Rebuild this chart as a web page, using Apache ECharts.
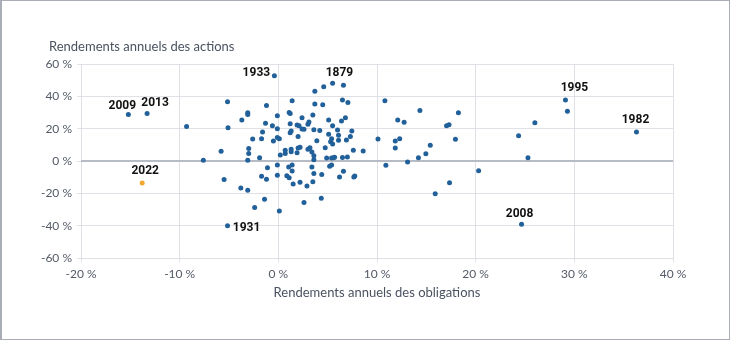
<!DOCTYPE html>
<html>
<head>
<meta charset="utf-8">
<script src="https://cdn.jsdelivr.net/npm/echarts@6/dist/echarts.min.js"></script>
<style>
  html, body { margin: 0; padding: 0; background: #ffffff; }
  #chart { position: absolute; left: 0; top: 0; width: 730px; height: 340px; }
  #frame { position: absolute; left: 0; top: 0; width: 730px; height: 340px; box-sizing: border-box; border: 1px solid #a9aeb6; border-left-width: 2px; pointer-events: none; }
</style>
</head>
<body>
<div id="chart"></div>
<div id="frame"></div>
<script>
// Annual bond returns (%) and stock returns (%) - unlabeled years
const bondReturns = [
  -9.3, -7.6, -5.8, -5.5, -5.15, -5.1, -3.8, -3.7, -3.1, -3.1, -3.1, -3.0, -3.0, -3.1,
  -2.6, -2.4, -1.9, -1.7, -1.6, -1.7, -1.4, -1.3, -1.2, -1.2, -1.1, -0.6, -0.5,
  -0.1, -0.1, -0.1, -0.1, -0.1, 0.1, 0.2, 0.1, 0.7, 0.7, 0.86, 1.05, 1.1, 1.1, 1.2,
  1.2, 1.2, 1.3, 1.3, 1.3, 1.4, 1.4, 1.4, 1.5, 1.9, 2.1, 1.9, 2.0, 2.0, 2.2, 2.2,
  2.4, 2.4, 2.6, 2.6, 2.9, 3.0, 3.1, 3.0, 3.2, 3.4, 3.4, 3.5, 3.5, 3.6, 3.6, 3.6,
  3.6, 3.7, 3.7, 3.9, 4.2, 4.35, 4.4, 4.5, 4.6, 4.75, 4.9, 5.1, 5.1, 5.2, 5.3, 5.4,
  5.4, 5.4, 5.5, 5.5, 5.5, 5.6, 5.7, 6.0, 6.1, 6.1, 6.2, 6.4, 6.5, 6.5, 6.6, 6.8,
  6.9, 7.0, 7.05, 7.3, 7.45, 7.6, 7.65, 7.75, 8.6, 10.1, 10.8, 10.9, 11.85, 11.85,
  12.1, 12.3, 12.75, 13.1, 14.2, 14.35, 14.95, 15.4, 15.9, 17.05, 17.3, 17.35, 17.95,
  18.25, 20.3, 24.35, 25.3, 26.0, 29.3
];
const stockReturns = [
  21.3, 0.5, 6.0, -11.5, 36.6, 20.5, -16.7, 25.3, 29.8, 28.8, -18.1, 7.8, 4.7, 0.4,
  13.6, -28.8, 2.0, 13.8, 17.9, -9.5, -23.7, 23.3, 34.4, -11.3, -4.1, 21.8, 12.3,
  28.0, 19.9, 14.6, -2.5, -8.8, 13.8, 3.7, -30.9, 4.7, 6.6, -9.1, -3.7, -10.3, 30.0, 29.4,
  23.0, 17.5, 18.5, 7.2, 5.7, 37.2, -2.5, -6.2, -14.2, 22.2, 21.8, 5.1, 15.2, 8.0, 8.5, -13.2,
  26.7, 19.8, 19.6, -25.7, -15.4, 22.7, 24.1, 7.2, 8.2, 5.6, -3.7, 28.4, -12.8, 19.3, 3.3, 0.8,
  -7.8, 43.2, 35.2, 12.5, 18.9, -23.0, -8.4, 34.8, 45.9, 8.2, 1.8, 25.3, 16.5, -3.3, 11.9, 13.8,
  -2.5, 1.8, 21.8, 10.5, 48.1, 2.0, 2.3, 19.1, 16.0, 12.8, -9.9, 24.7, 37.7, 2.2, -6.4, 26.7,
  13.0, 2.5, 36.2, 15.2, 18.5, 6.6, -9.9, -9.3, 6.2, 13.6, 37.2, -2.7, 12.3, 8.0,
  25.3, 13.8, 23.9, -0.6, 2.0, 31.3, 4.5, 9.7, -20.2, 21.8, 22.4, -13.4, 13.4,
  29.8, -6.0, 15.6, 2.0, 23.6, 30.7
];
// Labeled years
const labelYears  = ['2009', '2013', '1931', '1933', '1879', '2008', '1995', '1982'];
const labelBonds  = [-15.2, -13.3, -5.15, -0.4, 6.6, 24.65, 29.1, 36.3];
const labelStocks = [28.8, 29.4, -40.1, 52.7, 46.9, -39.1, 37.8, 17.9];
// Highlighted year
const highlightYear  = '2022';
const highlightBond  = -13.8;
const highlightStock = -13.6;
// Axis ticks
const xTicks = { min: -20, max: 40, step: 10 };
const yTicks = { min: -60, max: 60, step: 20 };

// label offsets (style only)
const labelOffsets = {
  '2009': [-6, -8], '2013': [8, -10], '1931': [19, 2], '1933': [-18, -3],
  '1879': [-4, -12], '2008': [-2, -10], '1995': [9, -12], '1982': [-1, -12], '2022': [3, -12]
};

const FONT = 'Lato, "Noto Sans", sans-serif';
const dotBlue = '#22609a';
const gridColor = '#dfe1e6';

const mainData = bondReturns.map((b, i) => [b, stockReturns[i]]);
const labeledData = labelYears.map((y, i) => ({
  value: [labelBonds[i], labelStocks[i]],
  name: y,
  label: { offset: labelOffsets[y] }
}));

const labelStyle = {
  show: true,
  position: 'inside',
  formatter: p => p.name,
  color: '#111111',
  fontFamily: 'Roboto, sans-serif',
  fontWeight: 'bold',
  fontSize: 12
};

const chart = echarts.init(document.getElementById('chart'), null, { renderer: 'canvas' });
chart.setOption({
  animation: false,
  backgroundColor: '#ffffff',
  grid: { left: 81, right: 57, top: 64, bottom: 82, containLabel: false },
  graphic: [{
    type: 'text', left: 49, top: 40,
    style: { text: 'Rendements annuels des actions', fill: '#4a5260', font: '13px ' + FONT }
  }],
  xAxis: {
    type: 'value', min: xTicks.min, max: xTicks.max, interval: xTicks.step,
    name: 'Rendements annuels des obligations', nameLocation: 'middle', nameGap: 28,
    nameTextStyle: { color: '#4a5260', fontSize: 13, fontFamily: FONT },
    axisLine: { show: false, onZero: false },
    axisTick: { show: true, length: 4, lineStyle: { color: gridColor } },
    axisLabel: { color: '#535a66', fontSize: 12, fontFamily: FONT, margin: 10, formatter: v => v + ' %' },
    splitLine: { show: true, lineStyle: { color: gridColor, width: 1 } }
  },
  yAxis: {
    type: 'value', min: yTicks.min, max: yTicks.max, interval: yTicks.step,
    axisLine: { show: false, onZero: false },
    axisTick: { show: true, length: 4, lineStyle: { color: gridColor } },
    axisLabel: { color: '#535a66', fontSize: 12, fontFamily: FONT, margin: 9, formatter: v => v + ' %' },
    splitLine: { show: true, lineStyle: { color: gridColor, width: 1 } }
  },
  series: [
    {
      type: 'line', data: [[xTicks.min, 0], [xTicks.max, 0]], symbol: 'none', silent: true, z: 1,
      lineStyle: { color: '#b7bbc5', width: 2 }
    },
    {
      type: 'scatter', data: mainData, symbolSize: 5, z: 3,
      itemStyle: { color: dotBlue, opacity: 1 }
    },
    {
      type: 'scatter', data: labeledData, symbolSize: 5, z: 3,
      itemStyle: { color: dotBlue, opacity: 1 },
      label: labelStyle
    },
    {
      type: 'scatter', z: 3, symbolSize: 5,
      data: [{ value: [highlightBond, highlightStock], name: highlightYear, label: { offset: labelOffsets[highlightYear] } }],
      itemStyle: { color: '#f2a72f', opacity: 1 },
      label: labelStyle
    }
  ]
});
</script>
</body>
</html>
